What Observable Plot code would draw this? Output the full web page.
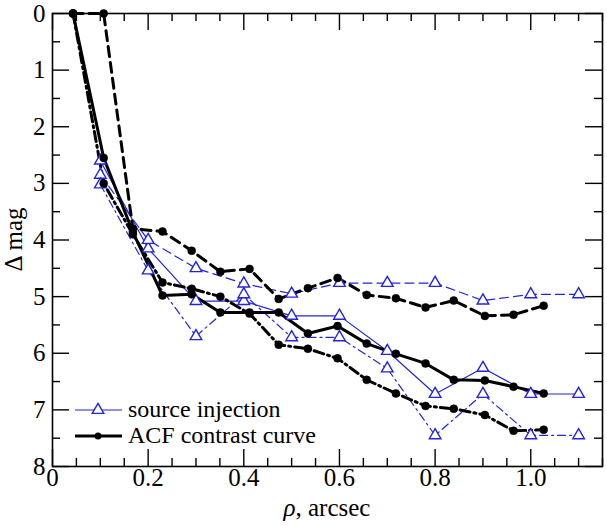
<!DOCTYPE html>
<html>
<head>
<meta charset="utf-8">
<script src="https://cdn.jsdelivr.net/npm/d3@7"></script>
<script src="https://cdn.jsdelivr.net/npm/@observablehq/plot@0.6"></script>
<style>
  html, body { margin: 0; padding: 0; background: white; }
  #chart { width: 607px; height: 526px; }
  #chart svg, #chart svg text { font-family: "Liberation Serif", serif !important; }
</style>
</head>
<body>
<div id="chart"></div>
<script>
// ACF contrast curves (black), separations in arcsec
const acfRho = [0.043, 0.107, 0.168, 0.230, 0.291, 0.351, 0.412, 0.473, 0.534, 0.596, 0.657, 0.718, 0.780, 0.839, 0.904, 0.964, 1.027];
const acfSolid   = [0, 2.55, 3.86, 4.98, 4.96, 5.28, 5.28, 5.28, 5.65, 5.52, 5.83, 6.01, 6.18, 6.47, 6.48, 6.59, 6.71];
const acfDashed  = [0, 0, 3.80, 3.85, 4.19, 4.56, 4.51, 5.04, 4.85, 4.67, 4.97, 5.03, 5.19, 5.07, 5.34, 5.32, 5.16];
const acfDashDot = [0, 3.00, 3.90, 4.75, 4.86, 5.00, 5.30, 5.85, 5.92, 6.09, 6.47, 6.71, 6.93, 6.98, 7.09, 7.37, 7.35];

// Source injection curves (blue)
const injRho = [0.1, 0.2, 0.3, 0.4, 0.5, 0.6, 0.7, 0.8, 0.9, 1.0, 1.1];
const injSolid   = [2.60, 4.15, 5.08, 5.08, 5.34, 5.34, 5.96, 6.72, 6.26, 6.72, 6.72];
const injDashed  = [2.85, 4.00, 4.50, 4.77, 4.95, 4.76, 4.76, 4.76, 5.07, 4.96, 4.96];
const injDashDot = [3.02, 4.54, 5.70, 4.96, 5.72, 5.72, 6.27, 7.45, 6.72, 7.45, 7.45];

const xMajor = [0, 0.2, 0.4, 0.6, 0.8, 1.0];
const xMinor = [0.05, 0.1, 0.15, 0.25, 0.3, 0.35, 0.45, 0.5, 0.55, 0.65, 0.7, 0.75, 0.85, 0.9, 0.95, 1.05, 1.1, 1.15];
const yMajor = [0, 1, 2, 3, 4, 5, 6, 7, 8];
const yMinor = [0.5, 1.5, 2.5, 3.5, 4.5, 5.5, 6.5, 7.5];

const legendLabels = ["source injection", "ACF contrast curve"];
const xTitleSymbol = "ρ";
const xTitleRest = ", arcsec";
const yTitle = "Δ mag";

const toRows = (xs, ys) => xs.map((x, i) => ({x, y: ys[i]}));
const aS = toRows(acfRho, acfSolid), aD = toRows(acfRho, acfDashed), aDD = toRows(acfRho, acfDashDot);
const iS = toRows(injRho, injSolid), iD = toRows(injRho, injDashed), iDD = toRows(injRho, injDashDot);

const W = 607, H = 526, mL = 52, mR = 5, mT = 13, mB = 60;
const pw = W - mL - mR, ph = H - mT - mB;
const BLUE = "#2424dc";
const FONT = "Liberation Serif";
const FS = "25px";
const LFS = "24px";
const majorLen = 17, minorLen = 8;

const blueLine = (data, dash) => Plot.line(data, {x: "x", y: "y", stroke: BLUE, strokeWidth: 1.2, strokeDasharray: dash});
const blackLine = (data, dash) => Plot.line(data, {x: "x", y: "y", stroke: "black", strokeWidth: 3, strokeDasharray: dash});
const tri = data => Plot.dot(data, {x: "x", y: "y", symbol: "triangle", r: 4.3, stroke: BLUE, strokeWidth: 1.4, fill: "white"});
const blob = data => Plot.dot(data, {x: "x", y: "y", r: 4, fill: "black", stroke: "black", strokeWidth: 0.5});

const chart = Plot.plot({
  width: W, height: H,
  marginLeft: mL, marginRight: mR, marginTop: mT, marginBottom: mB,
  style: {fontFamily: FONT, fontSize: FS, background: "white", color: "black"},
  x: {domain: [0, 1.15]},
  y: {domain: [0, 8], reverse: true},
  marks: [
    blueLine(iS, null), blueLine(iD, "9,5"), blueLine(iDD, "8,4,2,4"),
    blackLine(aS, null), blackLine(aD, "10,6"), blackLine(aDD, "10,4,2,4"),
    tri(iS), tri(iD), tri(iDD),
    blob(aS), blob(aD), blob(aDD),
    // inward ticks on all four sides
    Plot.tickX(xMajor, {x: d => d, insetTop: ph - majorLen, stroke: "black", strokeWidth: 1.4}),
    Plot.tickX(xMinor, {x: d => d, insetTop: ph - minorLen, stroke: "black", strokeWidth: 1.4}),
    Plot.tickX(xMajor, {x: d => d, insetBottom: ph - majorLen, stroke: "black", strokeWidth: 1.4}),
    Plot.tickX(xMinor, {x: d => d, insetBottom: ph - minorLen, stroke: "black", strokeWidth: 1.4}),
    Plot.tickY(yMajor, {y: d => d, insetRight: pw - majorLen, stroke: "black", strokeWidth: 1.4}),
    Plot.tickY(yMinor, {y: d => d, insetRight: pw - minorLen, stroke: "black", strokeWidth: 1.4}),
    Plot.tickY(yMajor, {y: d => d, insetLeft: pw - majorLen, stroke: "black", strokeWidth: 1.4}),
    Plot.tickY(yMinor, {y: d => d, insetLeft: pw - minorLen, stroke: "black", strokeWidth: 1.4}),
    Plot.frame({stroke: "black", strokeWidth: 1.6}),
    Plot.axisX({ticks: xMajor, tickSize: 0, tickPadding: 2, label: null, tickFormat: d => d === 0 ? "0" : d.toFixed(1)}),
    Plot.axisY({ticks: yMajor, tickSize: 0, tickPadding: 7, label: null, tickFormat: d => String(d)})
  ]
});
document.getElementById("chart").appendChild(chart);

// titles and legend
const svg = d3.select(chart);
svg.attr("font-family", FONT).attr("font-size", FS);
svg.selectAll("text").attr("font-family", FONT).style("font-family", FONT).style("font-size", FS);
const xt = svg.append("text").attr("x", mL + pw / 2).attr("y", 516).attr("text-anchor", "middle")
  .attr("fill", "black").style("font-family", FONT).style("font-size", FS);
xt.append("tspan").style("font-style", "italic").text(xTitleSymbol);
xt.append("tspan").text(xTitleRest);
svg.append("text").attr("transform", `translate(22,${mT + ph / 2}) rotate(-90)`).attr("text-anchor", "middle")
  .attr("fill", "black").style("font-family", FONT).style("font-size", FS).text(yTitle);

const lg = svg.append("g");
const ly = [410, 436];
lg.append("line").attr("x1", 75).attr("x2", 122).attr("y1", ly[0]).attr("y2", ly[0]).attr("stroke", BLUE).attr("stroke-width", 1.2);
lg.append("path").attr("d", d3.symbol(d3.symbolTriangle, Math.PI * 4.3 * 4.3)()).attr("transform", `translate(98,${ly[0]})`)
  .attr("fill", "white").attr("stroke", BLUE).attr("stroke-width", 1.4);
lg.append("line").attr("x1", 75).attr("x2", 122).attr("y1", ly[1]).attr("y2", ly[1]).attr("stroke", "black").attr("stroke-width", 3);
lg.append("circle").attr("cx", 98).attr("cy", ly[1]).attr("r", 3.5).attr("fill", "black");
legendLabels.forEach((t, i) => {
  lg.append("text").attr("x", 128).attr("y", ly[i] + 7).attr("text-anchor", "start")
    .attr("fill", "black").style("font-family", FONT).style("font-size", LFS).text(t);
});
</script>
</body>
</html>
